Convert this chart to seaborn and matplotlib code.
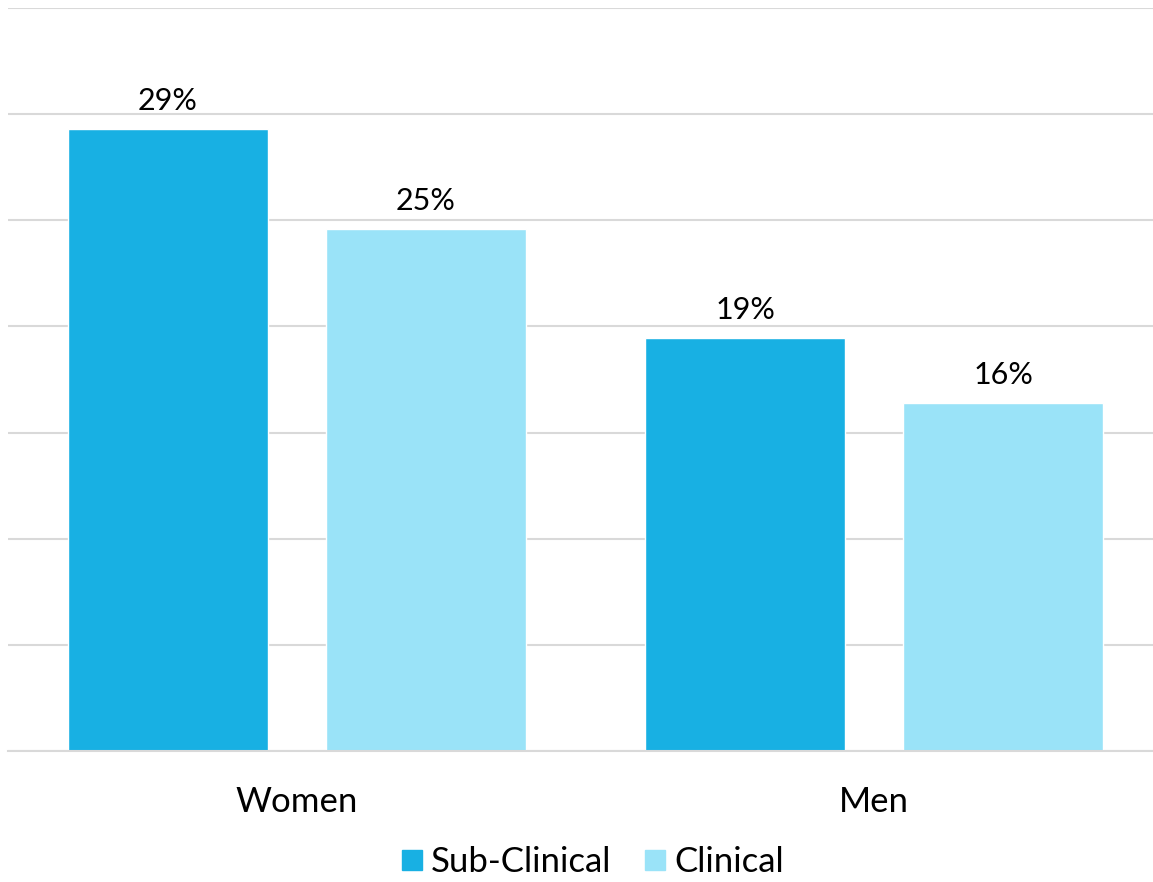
import pandas as pd
import matplotlib
matplotlib.use('Agg')
import matplotlib.pyplot as plt
import seaborn as sns
from matplotlib.lines import Line2D

groups = ['Women', 'Men']
series = ['Sub-Clinical', 'Clinical']
sub_clinical = [29.3, 19.45]
clinical = [24.6, 16.4]
colors = ['#18B0E3', '#9AE3F8']

df = pd.DataFrame({
    'group': groups * 2,
    'series': [series[0]] * 2 + [series[1]] * 2,
    'value': sub_clinical + clinical,
})

sns.set_style('white')
plt.rcParams['font.family'] = ['Lato', 'DejaVu Sans']
plt.rcParams['text.color'] = 'black'
plt.rcParams['xtick.color'] = 'black'

fig = plt.figure(figsize=(11.53, 8.82), dpi=100)
ax = fig.add_axes([8 / 1153, 1 - 751 / 882, 1 - 8 / 1153, (751 - 8) / 882])

sns.barplot(data=df, x='group', y='value', hue='series', order=groups,
            hue_order=series, palette=colors, width=0.894, gap=0.224,
            saturation=1, ax=ax, legend=False, zorder=2)

ax.set_ylim(0, 35)
ax.set_xlim(-0.5, 1.483)
ax.set_yticks(range(0, 36, 5))
ax.yaxis.grid(True, color='#D9D9D9', linewidth=1.5, zorder=0)
ax.set_axisbelow(True)
ax.tick_params(axis='y', left=False, labelleft=False)
ax.tick_params(axis='x', bottom=False, labelsize=25, pad=22, labelcolor='black')
ax.set_xlabel('')
ax.set_ylabel('')
for s in ['top', 'right', 'left']:
    ax.spines[s].set_visible(False)
ax.spines['bottom'].set_color('#D9D9D9')
ax.spines['bottom'].set_linewidth(1.5)

# rounded percentage labels above each bar
for cont in ax.containers:
    ax.bar_label(cont, labels=[f'{round(v)}%' for v in cont.datavalues],
                 padding=10, fontsize=22, color='black')

handles = [Line2D([0], [0], marker='s', linestyle='', markersize=15,
                  markerfacecolor=c, markeredgecolor=c) for c in colors]
fig.legend(handles, series, loc='center', bbox_to_anchor=(590 / 1153, 1 - 862 / 882),
           ncol=2, frameon=False, fontsize=25, handletextpad=0.1,
           columnspacing=0.8, handlelength=0.9)

fig.savefig('out.png', dpi=100)
